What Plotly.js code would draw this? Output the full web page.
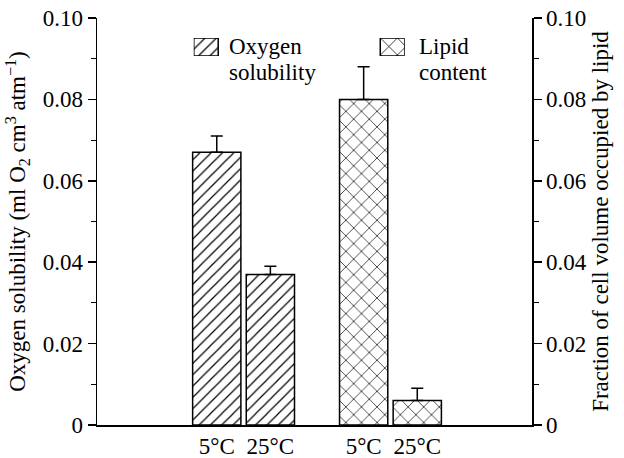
<!DOCTYPE html>
<html>
<head>
<meta charset="utf-8">
<script src="https://cdn.plot.ly/plotly-3.0.1.min.js"></script>
<style>
html,body{margin:0;padding:0;background:#fff;}
#chart{width:624px;height:458px;}
</style>
</head>
<body>
<div id="chart"></div>
<script>
// ---- data ----
var temps = ['5°C', '25°C'];
var oxygenSolubility = [0.067, 0.037];
var oxygenErr = [0.004, 0.002];
var lipidContent = [0.080, 0.006];
var lipidErr = [0.008, 0.003];
var yTickVals = [0, 0.02, 0.04, 0.06, 0.08, 0.10];
var yTickText = ['0', '0.02', '0.04', '0.06', '0.08', '0.10'];
var legendLines = [['Oxygen', 'solubility'], ['Lipid', 'content']];

// ---- layout helpers ----
var groupOffset = 2.74;
var oxX = temps.map(function (t, i) { return i; });
var lipX = temps.map(function (t, i) { return i + groupOffset; });
var serifFont = 'Times New Roman';
var fontSize = 23;
var mkFont = function () { return { family: serifFont, size: fontSize, color: 'black' }; };

var plotLeft = 97, plotRight = 532, plotTop = 18, plotBottom = 425;
function paperX(v) { return (v - plotLeft) / (plotRight - plotLeft); }
function paperY(v) { return (plotBottom - v) / (plotBottom - plotTop); }

var traces = [
  {
    type: 'bar', x: oxX, y: oxygenSolubility, width: 0.9,
    marker: { color: 'white', line: { color: 'black', width: 1.5 },
      pattern: { shape: '/', size: 8, solidity: 0.15, fgcolor: 'black', bgcolor: 'white' } },
    error_y: { type: 'data', array: oxygenErr, arrayminus: oxygenErr.map(function(){return 0;}), symmetric: false, color: 'black', thickness: 1.5, width: 6 },
    showlegend: false, hoverinfo: 'none'
  },
  {
    type: 'bar', x: lipX, y: lipidContent, width: 0.9, yaxis: 'y2',
    marker: { color: 'white', line: { color: 'black', width: 1.5 },
      pattern: { shape: 'x', size: 11, solidity: 0.12, fgcolor: 'black', bgcolor: 'white' } },
    error_y: { type: 'data', array: lipidErr, arrayminus: lipidErr.map(function(){return 0;}), symmetric: false, color: 'black', thickness: 1.5, width: 6 },
    showlegend: false, hoverinfo: 'none'
  },
  // legend swatches
  {
    type: 'bar', x: [0], y: [1], width: 0.131, xaxis: 'x3', yaxis: 'y3',
    marker: { color: 'white', line: { color: 'black', width: 1.5 },
      pattern: { shape: '/', size: 8, solidity: 0.15, fgcolor: 'black', bgcolor: 'white' } },
    showlegend: false, hoverinfo: 'none'
  },
  {
    type: 'bar', x: [1], y: [1], width: 0.131, xaxis: 'x3', yaxis: 'y3',
    marker: { color: 'white', line: { color: 'black', width: 1.5 },
      pattern: { shape: 'x', size: 12, solidity: 0.12, fgcolor: 'black', bgcolor: 'white' } },
    showlegend: false, hoverinfo: 'none'
  }
];

function legendAnn(txt, xp, yp) {
  return { text: txt, xref: 'paper', yref: 'paper', x: paperX(xp), y: paperY(yp), xanchor: 'left', yanchor: 'middle',
    align: 'left', showarrow: false, font: mkFont() };
}

var layout = {
  width: 624, height: 458,
  margin: { l: plotLeft, r: 624 - plotRight, t: plotTop, b: 458 - plotBottom, pad: 0 },
  paper_bgcolor: 'white', plot_bgcolor: 'white',
  font: mkFont(),
  showlegend: false,
  bargap: 0,
  xaxis: {
    range: [-2.234, 5.88], showgrid: false, zeroline: false,
    showline: true, linecolor: 'black', linewidth: 1.5,
    ticks: '', tickvals: oxX.concat(lipX), ticktext: temps.concat(temps),
    tickfont: mkFont(), fixedrange: true
  },
  yaxis: {
    range: [0, 0.1], showgrid: false, zeroline: false,
    showline: true, linecolor: 'black', linewidth: 1.5,
    ticks: 'outside', ticklen: 8, tickwidth: 1.5, tickcolor: 'black',
    tickvals: yTickVals, ticktext: yTickText, tickfont: mkFont(),
    minor: { dtick: 0.01, ticks: 'outside', ticklen: 5, tickwidth: 1, tickcolor: 'black' },
    title: { text: 'Oxygen solubility (ml O<sub>2</sub> cm<sup>3</sup> atm<sup>−1</sup>)', font: mkFont(), standoff: 10 }
  },
  yaxis2: {
    range: [0, 0.1], overlaying: 'y', side: 'right', showgrid: false, zeroline: false,
    showline: true, linecolor: 'black', linewidth: 1.5,
    ticks: 'outside', ticklen: 8, tickwidth: 1.5, tickcolor: 'black',
    tickvals: yTickVals, ticktext: yTickText, tickfont: mkFont(),
    minor: { dtick: 0.01, ticks: 'outside', ticklen: 5, tickwidth: 1, tickcolor: 'black' },
    title: { text: 'Fraction of cell volume occupied by lipid', font: mkFont(), standoff: 6 }
  },
  xaxis3: {
    domain: [paperX(193.75), paperX(404.75)], range: [-0.0657, 1.0657], anchor: 'y3',
    visible: false, fixedrange: true
  },
  yaxis3: {
    domain: [paperY(56), paperY(38)], range: [0, 1], anchor: 'x3',
    visible: false, fixedrange: true
  },
  annotations: [
    legendAnn(legendLines[0][0], 227, 46),
    legendAnn(legendLines[0][1], 227, 73),
    legendAnn(legendLines[1][0], 417, 46),
    legendAnn(legendLines[1][1], 417, 73)
  ]
};

Plotly.newPlot('chart', traces, layout, { displayModeBar: false, staticPlot: true });
</script>
</body>
</html>
